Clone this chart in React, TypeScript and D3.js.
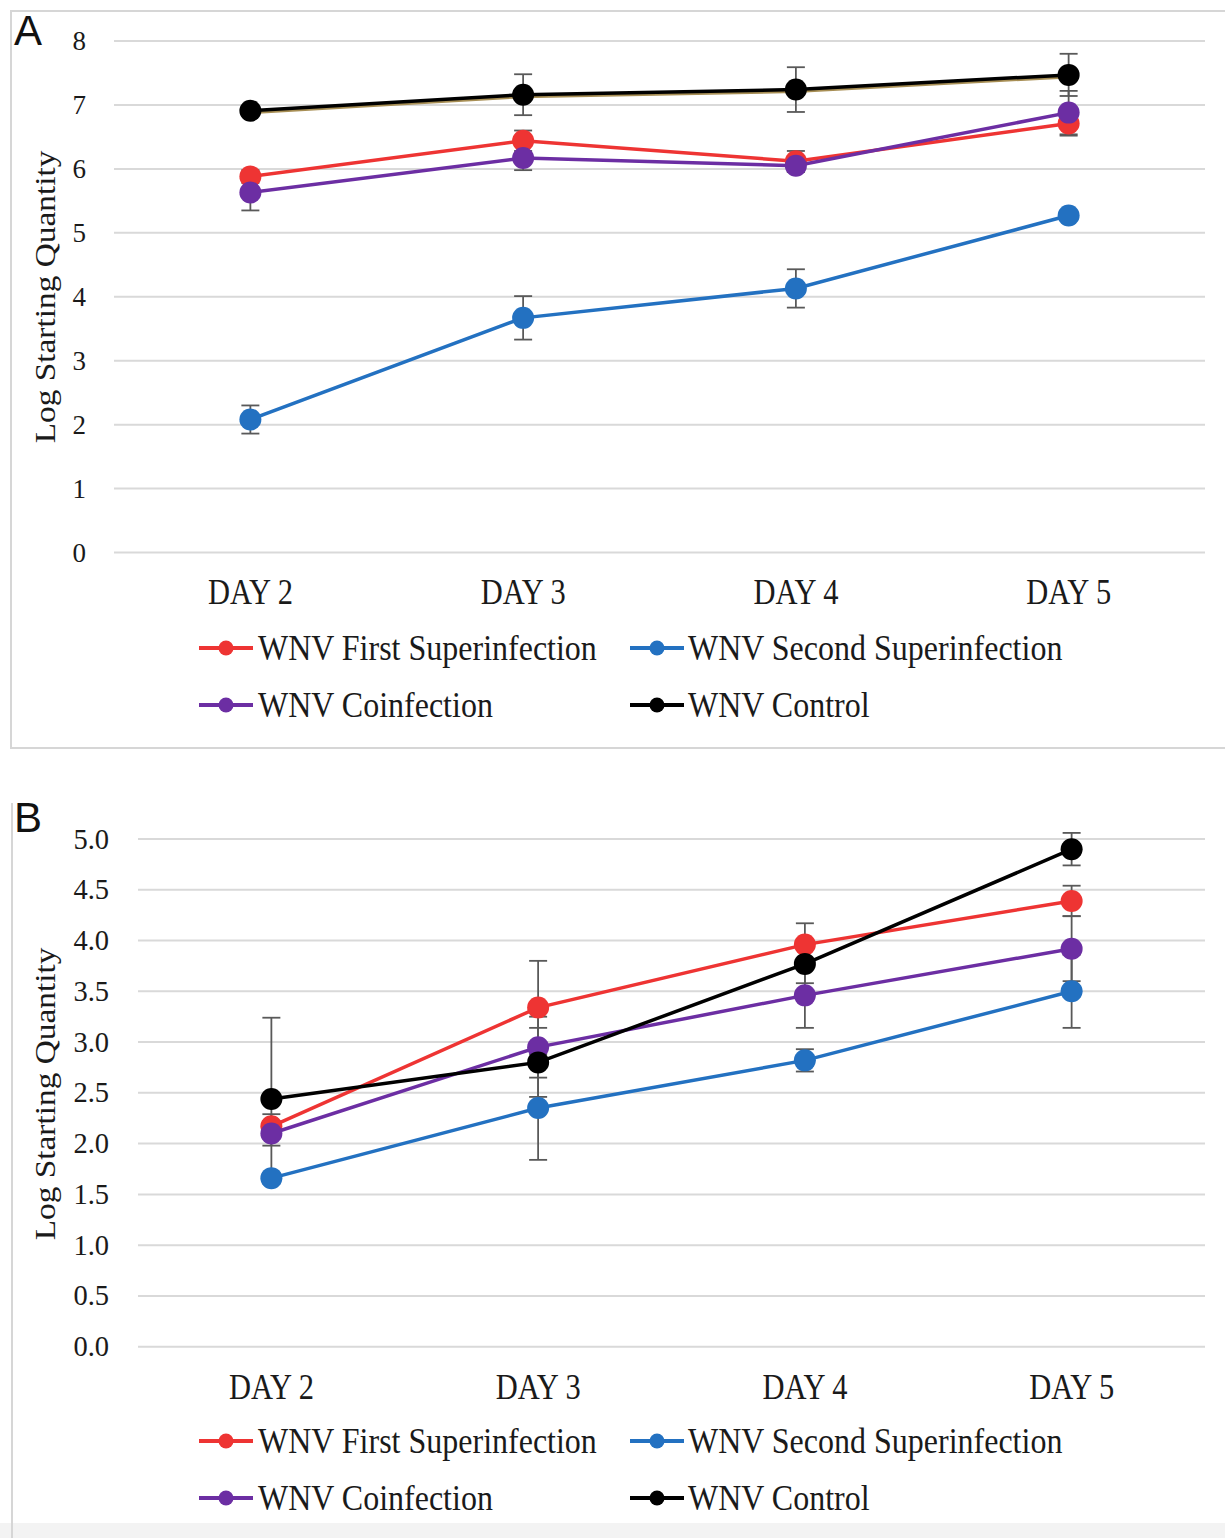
import React from "react";
import * as d3 from "d3";

const days = ["DAY 2", "DAY 3", "DAY 4", "DAY 5"];
const seriesNames = ["WNV First Superinfection", "WNV Second Superinfection", "WNV Coinfection", "WNV Control"];
const seriesColors = ["#ee3433", "#2371c1", "#6c2ea3", "#000000"];

// Panel A
const aFirst = [5.88, 6.44, 6.12, 6.71];
const aFirstErr = [0.1, 0.16, 0.16, 0.19];
const aSecond = [2.08, 3.67, 4.13, 5.27];
const aSecondErr = [0.22, 0.34, 0.3, 0.05];
const aCo = [5.63, 6.17, 6.05, 6.88];
const aCoErr = [0.28, 0.19, 0.1, 0.34];
const aCtrl = [6.91, 7.16, 7.24, 7.47];
const aCtrlErr = [0.05, 0.32, 0.35, 0.33];
const aTicks = [0, 1, 2, 3, 4, 5, 6, 7, 8];

// Panel B
const bFirst = [2.17, 3.34, 3.96, 4.39];
const bFirstErr = [0.12, 0.46, 0.21, 0.15];
const bSecond = [1.66, 2.35, 2.82, 3.5];
const bSecondErr = [0.05, 0.51, 0.11, 0.36];
const bCo = [2.1, 2.95, 3.46, 3.92];
const bCoErr = [0.12, 0.3, 0.32, 0.32];
const bCtrl = [2.44, 2.8, 3.77, 4.9];
const bCtrlErr = [0.8, 0.34, 0.19, 0.16];
const bTicks = [0, 0.5, 1, 1.5, 2, 2.5, 3, 3.5, 4, 4.5, 5];

const SERIF = "'Liberation Serif', 'Times New Roman', serif";
const SANS = "'Liberation Sans', Arial, sans-serif";

type PanelProps = {
  letter: string;
  letterY: number;
  values: number[][];
  errors: number[][];
  yDomain: [number, number];
  yRange: [number, number];
  xRange: [number, number];
  ticks: number[];
  tickFmt: (v: number) => string;
  tickX: number;
  tickSize: number;
  dayBaseline: number;
  titleY: number;
  legendY: [number, number];
  goldShadow: boolean;
};

function Panel(p: PanelProps) {
  const x = d3.scaleBand<string>().domain(days).range(p.xRange).padding(0);
  const y = d3.scaleLinear().domain(p.yDomain).range(p.yRange);
  const cx = (d: string) => (x(d) as number) + x.bandwidth() / 2;
  const line = d3
    .line<number>()
    .x((_, i) => cx(days[i]))
    .y((v) => y(v));
  const capHalf = 9;
  const legendCols = [
    { lx0: 199, lx1: 253, tx: 258 },
    { lx0: 630, lx1: 684, tx: 688 },
  ];
  const legendOrder = [0, 1, 2, 3];
  return (
    <g>
      <text x={14} y={p.letterY} fontFamily={SANS} fontSize={42} fill="#111">
        {p.letter}
      </text>
      {p.ticks.map((t) => (
        <g key={t}>
          <line x1={p.xRange[0]} x2={p.xRange[1]} y1={y(t)} y2={y(t)} stroke="#d9d9d9" strokeWidth={2} />
          <text
            x={p.tickX}
            y={y(t)}
            textAnchor="end"
            dominantBaseline="central"
            fontFamily={SERIF}
            fontSize={p.tickSize}
            fill="#1a1a1a"
          >
            {p.tickFmt(t)}
          </text>
        </g>
      ))}
      <text
        transform={`translate(45,${p.titleY}) scale(1,1.15) rotate(-90)`}
        textAnchor="middle"
        dominantBaseline="central"
        fontFamily={SERIF}
        fontSize={29}
        fill="#1a1a1a"
      >
        Log Starting Quantity
      </text>
      {days.map((d) => (
        <text
          key={d}
          transform={`translate(${cx(d)},${p.dayBaseline}) scale(1,1.15)`}
          textAnchor="middle"
          fontFamily={SERIF}
          fontSize={30.5}
          fill="#1a1a1a"
        >
          {d}
        </text>
      ))}
      {p.values.map((vals, si) =>
        vals.map((v, i) => {
          const e = p.errors[si][i];
          const xx = cx(days[i]);
          return (
            <g key={`e${si}-${i}`} stroke="#595959" strokeWidth={1.8}>
              <line x1={xx} x2={xx} y1={y(v + e)} y2={y(v - e)} />
              <line x1={xx - capHalf} x2={xx + capHalf} y1={y(v + e)} y2={y(v + e)} />
              <line x1={xx - capHalf} x2={xx + capHalf} y1={y(v - e)} y2={y(v - e)} />
            </g>
          );
        })
      )}
      {p.values.map((vals, si) => (
        <g key={`s${si}`}>
          {p.goldShadow && si === 3 && (
            <path d={line(vals) || ""} fill="none" stroke="#a88f55" strokeWidth={4} transform="translate(0,1.5)" />
          )}
          <path d={line(vals) || ""} fill="none" stroke={seriesColors[si]} strokeWidth={3.5} />
          {vals.map((v, i) => (
            <circle key={i} cx={cx(days[i])} cy={y(v)} r={11} fill={seriesColors[si]} />
          ))}
        </g>
      ))}
      {legendOrder.map((si, k) => {
        const col = legendCols[k % 2];
        const row = Math.floor(k / 2);
        const ly = p.legendY[row];
        return (
          <g key={`l${si}`}>
            <line x1={col.lx0} x2={col.lx1} y1={ly} y2={ly} stroke={seriesColors[si]} strokeWidth={4} />
            <circle cx={(col.lx0 + col.lx1) / 2} cy={ly} r={7.5} fill={seriesColors[si]} />
            <text
              transform={`translate(${col.tx},${ly + 12}) scale(1,1.12)`}
              fontFamily={SERIF}
              fontSize={32}
              fill="#1a1a1a"
            >
              {seriesNames[si]}
            </text>
          </g>
        );
      })}
    </g>
  );
}

export default function App() {
  return (
    <svg
      width={1225}
      height={1538}
      style={{ position: "absolute", left: 0, top: 0, background: "#fff" }}
    >
      <rect x={0} y={0} width={1225} height={1538} fill="#fff" />
      <path d="M1225,11 H11 V748 H1225" fill="none" stroke="#d6d6d6" strokeWidth={2} />
      <rect x={0} y={1523} width={1225} height={15} fill="#f3f3f3" />
      <line x1={12} x2={12} y1={803} y2={1538} stroke="#d6d6d6" strokeWidth={2} />
      <Panel
        letter="A"
        letterY={45}
        values={[aFirst, aSecond, aCo, aCtrl]}
        errors={[aFirstErr, aSecondErr, aCoErr, aCtrlErr]}
        yDomain={[0, 8]}
        yRange={[552.5, 41]}
        xRange={[114, 1205]}
        ticks={aTicks}
        tickFmt={(v) => d3.format("d")(v)}
        tickX={86}
        tickSize={27}
        dayBaseline={604}
        titleY={297}
        legendY={[648, 705]}
        goldShadow={true}
      />
      <Panel
        letter="B"
        letterY={832}
        values={[bFirst, bSecond, bCo, bCtrl]}
        errors={[bFirstErr, bSecondErr, bCoErr, bCtrlErr]}
        yDomain={[0, 5]}
        yRange={[1346.7, 839]}
        xRange={[138, 1205]}
        ticks={bTicks}
        tickFmt={(v) => d3.format(".1f")(v)}
        tickX={109}
        tickSize={28.5}
        dayBaseline={1399}
        titleY={1094}
        legendY={[1441, 1498]}
        goldShadow={false}
      />
    </svg>
  );
}
